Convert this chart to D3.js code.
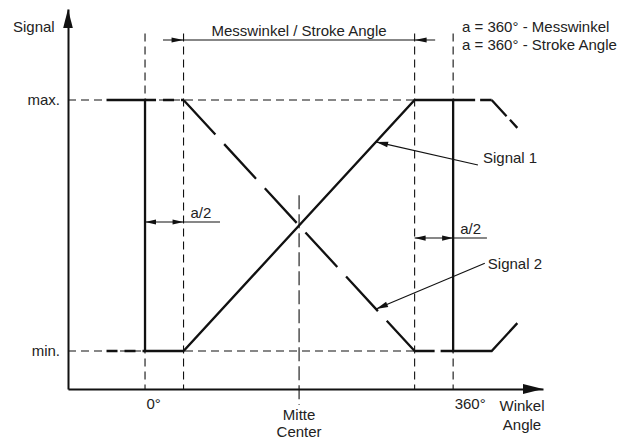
<!DOCTYPE html>
<html><head><meta charset="utf-8">
<script src="https://cdn.jsdelivr.net/npm/d3@7"></script>
<style>
html,body{margin:0;padding:0;background:#fff;}
svg{display:block;font-family:"Liberation Sans",Arial,Helvetica,sans-serif;}
</style>
</head><body>
<svg id="chart" width="621" height="439"></svg>
<script>
// ---- data ----
const signal1Angles = [-45, 0, 0, 45, 315, 360, 360, 405, 435];
const signal1Values = [1, 1, 0, 0, 1, 1, 0, 0, 0.111];
const signal2Angles = [-45, 0, 0, 45, 315, 360, 360, 405, 435];
const signal2Values = [0, 0, 1, 1, 0, 0, 1, 1, 0.889];
const yTickValues = [0, 1];
const yTickLabels = ["min.", "max."];
const xTickValues = [0, 360];
const xTickLabels = ["0°", "360°"];
const guideAngles = [0, 45, 315, 360];
const strokeStart = 45, strokeEnd = 315, centerAngle = 180, fullTurn = 360;
const formulaLines = ["a = 360° - Messwinkel", "a = 360° - Stroke Angle"];
const strokeLabel = "Messwinkel / Stroke Angle";
const centerLabels = ["Mitte", "Center"];
const xAxisLabels = ["Winkel", "Angle"];
const yAxisLabel = "Signal";
const signalNames = ["Signal 1", "Signal 2"];
const halfALabel = "a/2";

// ---- scales ----
const svg = d3.select("#chart");
const x = d3.scaleLinear().domain([-90, 465]).range([68, 543]);
const y = d3.scaleLinear().domain([-0.1514, 1.3625]).range([389, 9]);
const INK = "#111", TXT = "#222";

function seg(g, a0, v0, a1, v1, w, dash) {
  const l = g.append("line")
    .attr("x1", x(a0)).attr("y1", y(v0)).attr("x2", x(a1)).attr("y2", y(v1))
    .attr("stroke", INK).attr("stroke-width", w);
  if (dash) l.attr("stroke-dasharray", dash);
  return l;
}
function arrowHead(g, tipX, tipY, fromX, fromY, len, half) {
  const dx = tipX - fromX, dy = tipY - fromY, d = Math.hypot(dx, dy);
  const ux = dx / d, uy = dy / d;
  const bx = tipX - ux * len, by = tipY - uy * len;
  const px = -uy * half, py = ux * half;
  g.append("path")
    .attr("d", `M${tipX},${tipY}L${bx + px},${by + py}L${bx - px},${by - py}Z`)
    .attr("fill", INK);
}

// ---- guide lines (thin dashed) ----
const guides = svg.append("g");
yTickValues.forEach(v => seg(guides, -90, v, strokeEnd, v, 1.1, "8,5"));
guideAngles.forEach(a => seg(guides, a, 1.265, a, y.domain()[0], 1.1, "8,5"));
seg(guides, centerAngle, 0.62, centerAngle, -0.215, 1.1, "14,5");

// ---- axes ----
const yAxis = svg.append("g").attr("transform", `translate(${x(-90)},0)`)
  .call(d3.axisLeft(y).tickValues(yTickValues).tickSize(0).tickSizeOuter(0).tickPadding(8)
    .tickFormat((d, i) => yTickLabels[i]));
const xAxis = svg.append("g").attr("transform", `translate(0,${y(y.domain()[0])})`)
  .call(d3.axisBottom(x).tickValues(xTickValues).tickSize(0).tickSizeOuter(0).tickPadding(9.5)
    .tickFormat((d, i) => xTickLabels[i]));
[yAxis, xAxis].forEach(ax => {
  ax.attr("font-family", null).attr("font-size", null);
  ax.select(".domain").attr("stroke", INK).attr("stroke-width", 2);
  ax.selectAll("text").attr("font-size", 15).attr("fill", TXT);
});
xAxis.selectAll("text").attr("text-anchor", "start").attr("dx", 1);
const axG = svg.append("g");
arrowHead(axG, x(-90), y(y.domain()[1]), x(-90), y(0), 19, 4.8);
arrowHead(axG, x(x.domain()[1]), y(y.domain()[0]), x(0), y(y.domain()[0]), 20, 5);

// ---- signal 2 (dashed) ----
const s2 = svg.append("g");
for (let i = 0; i < signal2Angles.length - 1; i++) {
  const a0 = signal2Angles[i], a1 = signal2Angles[i + 1];
  if (a0 === a1) continue;
  const v0 = signal2Values[i], v1 = signal2Values[i + 1];
  const flat = v0 === v1;
  let dash = flat ? "11,7" : "47,13";
  if (a0 >= fullTurn) dash = "22,5";
  if (a0 === strokeEnd) dash = "20,6";
  seg(s2, a0, v0, a1, v1, 2.3, dash);
}
// ---- signal 1 (solid) ----
const line = d3.line().x(d => x(d[0])).y(d => y(d[1]));
svg.append("path")
  .attr("d", line(signal1Angles.map((a, i) => [a, signal1Values[i]])))
  .attr("fill", "none").attr("stroke", INK).attr("stroke-width", 2.3)
  .attr("stroke-linejoin", "miter");

// ---- dimension: stroke angle ----
const dim = svg.append("g");
const dimV = 1.239;
seg(dim, 21, dimV, 339, dimV, 1.1);
arrowHead(dim, x(strokeStart), y(dimV), x(21), y(dimV), 12, 2.6);
arrowHead(dim, x(strokeEnd), y(dimV), x(339), y(dimV), 12, 2.6);
dim.append("text").attr("x", x(centerAngle)).attr("y", y(dimV) - 4)
  .attr("text-anchor", "middle").attr("font-size", 15).attr("fill", TXT).text(strokeLabel);

// ---- dimension: a/2 left and right ----
const halfDims = [
  { a0: 0, a1: strokeStart, end: 87.6, v: 0.514 },
  { a0: strokeEnd, a1: fullTurn, end: 399.5, v: 0.45 }
];
halfDims.forEach(h => {
  seg(dim, h.a0, h.v, h.end, h.v, 1.1);
  arrowHead(dim, x(h.a0), y(h.v), x(h.a1), y(h.v), 11, 2.6);
  arrowHead(dim, x(h.a1), y(h.v), x(h.a0), y(h.v), 11, 2.6);
  dim.append("text").attr("x", x(h.a1) + 7).attr("y", y(h.v) - 4)
    .attr("font-size", 15).attr("fill", TXT).text(halfALabel);
});

// ---- leaders ----
const leaders = [
  { tipA: 270, tipV: 0.833, tailA: 389, tailV: 0.741, dx: 5, dy: -2 },
  { tipA: 270, tipV: 0.167, tailA: 397, tailV: 0.35, dx: 3, dy: 6 }
];
leaders.forEach((l, i) => {
  seg(dim, l.tipA, l.tipV, l.tailA, l.tailV, 1.1);
  arrowHead(dim, x(l.tipA), y(l.tipV), x(l.tailA), y(l.tailV), 12, 2.8);
  dim.append("text").attr("x", x(l.tailA) + l.dx).attr("y", y(l.tailV) + l.dy)
    .attr("font-size", 15).attr("fill", TXT).text(signalNames[i]);
});

// ---- other texts ----
const txt = svg.append("g").attr("font-size", 15).attr("fill", TXT);
txt.append("text").attr("x", 13).attr("y", 32).text(yAxisLabel);
formulaLines.forEach((t, i) => txt.append("text").attr("x", 462).attr("y", 32 + i * 18).text(t));
centerLabels.forEach((t, i) => txt.append("text").attr("x", x(centerAngle)).attr("y", 420 + i * 17)
  .attr("text-anchor", "middle").text(t));
xAxisLabels.forEach((t, i) => txt.append("text").attr("x", 522).attr("y", 411 + i * 19)
  .attr("text-anchor", "middle").text(t));
</script>
</body></html>
